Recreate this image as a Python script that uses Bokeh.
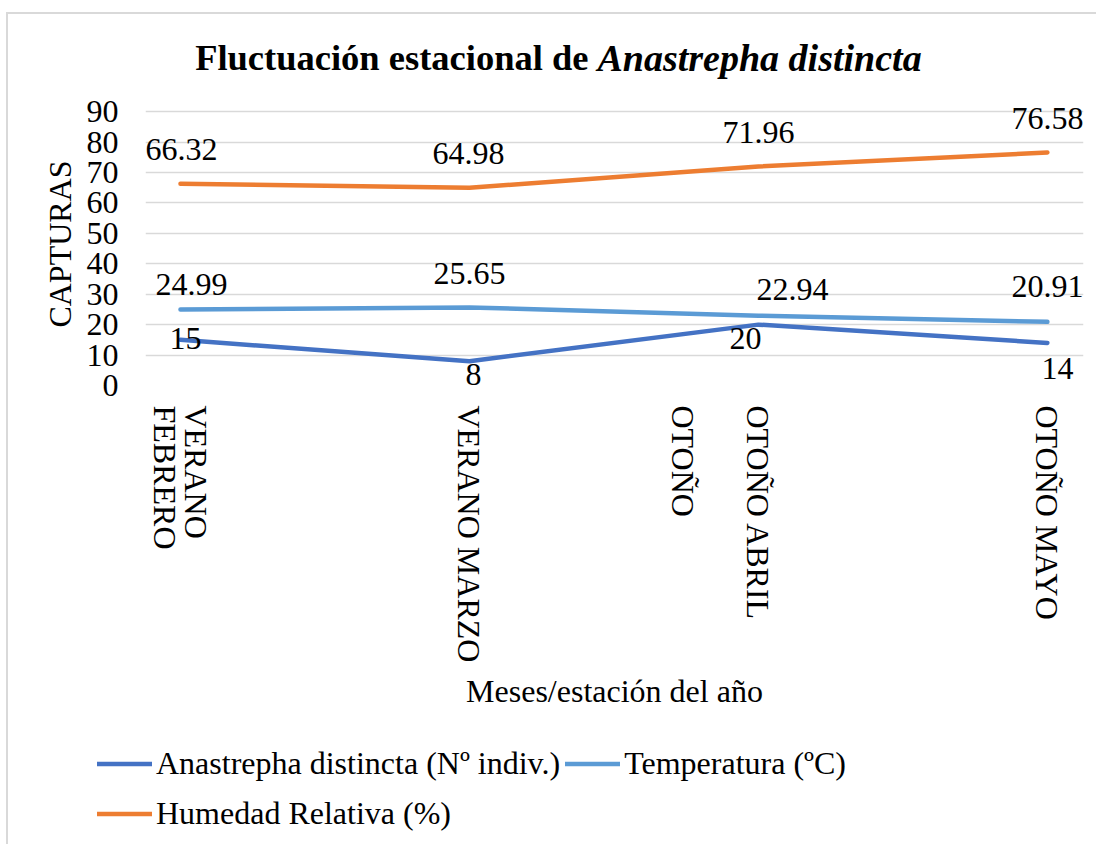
import math
from bokeh.plotting import figure
from bokeh.layouts import column
from bokeh.models import ColumnDataSource, FixedTicker, Legend
from bokeh.core.properties import value
from bokeh.embed import file_html
from bokeh.resources import INLINE

# ---------------- data ----------------
categories = ["VERANO\nFEBRERO", "VERANO MARZO", "OTOÑO ABRIL", "OTOÑO MAYO"]
extra_label = "OTOÑO"
capturas = [15, 8, 20, 14]
temperatura = [24.99, 25.65, 22.94, 20.91]
humedad = [66.32, 64.98, 71.96, 76.58]
y_ticks = [0, 10, 20, 30, 40, 50, 60, 70, 80, 90]
series_names = ["Anastrepha distincta (Nº indiv.)", "Temperatura (ºC)", "Humedad Relativa (%)"]
title_main = "Fluctuación estacional de"
title_species = "Anastrepha distincta"
x_title = "Meses/estación del año"
y_title = "CAPTURAS"

# ---------------- styles ----------------
FONT = "Liberation Serif"
FS = "32px"
colors = ["#4472C4", "#5B9BD5", "#ED7D31"]
LW = 4.5
extra_tick_pos = 1.74
# per-label screen offsets (px)
cap_off = ([5, 4, -13, 10], [-1, 13, 14, 26])
tem_off = ([11, 0, 34, 0], [-25, -34, -26, -35])
hum_off = ([1, -1, 0, 0], [-34, -34, -34, -34])

W = 1088
TH = 75     # title strip
MH = 636    # main chart
LH = 119    # legend strip


def bare(height):
    f = figure(width=W, height=height, x_range=(0, W), y_range=(0, height),
               output_backend="svg", toolbar_location=None,
               x_axis_type=None, y_axis_type=None, min_border=0)
    f.outline_line_color = None
    f.grid.visible = False
    f.frame_align = False
    return f


# ---------------- title strip ----------------
tf = bare(TH)
tf.text(x=[580], y=[32], text=[title_main], text_align="right",
        text_baseline="alphabetic", text_font=value(FONT), text_font_style="bold",
        text_font_size="36.5px", text_color="black")
tf.text(x=[589], y=[32], text=[title_species], text_align="left",
        text_baseline="alphabetic", text_font=value(FONT), text_font_style="bold italic",
        text_font_size="38px", text_color="black")

# ---------------- main chart ----------------
idx = list(range(len(categories)))

p = figure(width=W, height=MH, x_range=(-0.121, 3.125), y_range=(0, 93),
           output_backend="svg", toolbar_location=None,
           min_border_left=137, min_border_right=13, min_border_top=13,
           min_border_bottom=340)
p.outline_line_color = None
p.xgrid.visible = False
p.ygrid.ticker = FixedTicker(ticks=y_ticks)
p.ygrid.grid_line_color = "#d9d9d9"
p.ygrid.grid_line_width = 1.5

# y axis
p.yaxis.ticker = FixedTicker(ticks=y_ticks)
p.yaxis.axis_line_color = None
p.yaxis.major_tick_line_color = None
p.yaxis.minor_tick_line_color = None
p.yaxis.major_tick_out = 0
p.yaxis.major_label_standoff = 27
p.yaxis.major_label_text_font = FONT
p.yaxis.major_label_text_font_size = FS
p.yaxis.major_label_text_color = "black"
p.yaxis.axis_label = y_title
p.yaxis.axis_label_text_font = FONT
p.yaxis.axis_label_text_font_size = FS
p.yaxis.axis_label_text_font_style = "normal"
p.yaxis.axis_label_text_color = "black"
p.yaxis.axis_label_standoff = 6

# x axis
xt = idx[:2] + [extra_tick_pos] + idx[2:]
p.xaxis.ticker = FixedTicker(ticks=xt)
overrides = {i: c for i, c in zip(idx, categories)}
overrides[extra_tick_pos] = extra_label
p.xaxis.major_label_overrides = overrides
p.xaxis.major_label_orientation = -math.pi / 2
p.xaxis.axis_line_color = None
p.xaxis.major_tick_line_color = None
p.xaxis.minor_tick_line_color = None
p.xaxis.major_tick_out = 0
p.xaxis.major_label_standoff = 20
p.xaxis.major_label_text_font = FONT
p.xaxis.major_label_text_font_size = FS
p.xaxis.major_label_text_line_height = 0.84
p.xaxis.major_label_text_color = "black"
p.xaxis.axis_label = x_title
p.xaxis.axis_label_text_font = FONT
p.xaxis.axis_label_text_font_size = FS
p.xaxis.axis_label_text_font_style = "normal"
p.xaxis.axis_label_text_color = "black"
p.xaxis.axis_label_standoff = 8

for vals, col, offs in [(capturas, colors[0], cap_off),
                        (temperatura, colors[1], tem_off),
                        (humedad, colors[2], hum_off)]:
    src = ColumnDataSource(dict(x=idx, y=vals,
                                t=[("%d" % v) if float(v).is_integer() else ("%.2f" % v) for v in vals],
                                xo=offs[0], yo=offs[1]))
    p.line("x", "y", source=src, line_color=col, line_width=LW,
           line_cap="round", line_join="round")
    p.text("x", "y", text="t", source=src, x_offset="xo", y_offset="yo",
           text_align="center", text_baseline="alphabetic",
           text_font=value(FONT), text_font_size=FS, text_color="black")

# ---------------- legend strip ----------------
lf = bare(LH)
nan = float("nan")
leg_r = [lf.line(x=[nan], y=[nan], line_color=c, line_width=LW, line_cap="round")
         for c in colors]
legend = Legend(items=[(series_names[i], [leg_r[i]]) for i in range(3)],
                location=(89, 8), orientation="horizontal", ncols=2,
                padding=0, margin=0, spacing=5, glyph_width=55, glyph_height=45,
                label_height=45, label_standoff=4,
                label_text_font=FONT, label_text_font_size=FS,
                label_text_color="black", label_text_baseline="middle",
                border_line_color=None, background_fill_alpha=0)
lf.add_layout(legend)

layout = column(tf, p, lf, spacing=0, margin=(12, 0, 0, 6),
                styles={"border-left": "2px solid #d9d9d9",
                        "border-top": "2px solid #d9d9d9"})

open("out.html", "w").write(file_html(layout, INLINE))
